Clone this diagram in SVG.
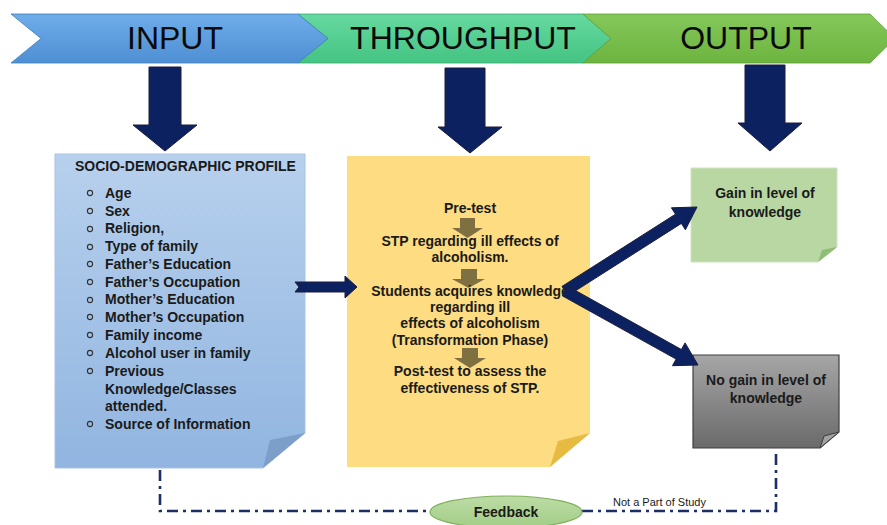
<svg xmlns="http://www.w3.org/2000/svg" width="887" height="525" viewBox="0 0 887 525">
<defs>
<linearGradient id="gIn" x1="0" y1="0" x2="0" y2="1"><stop offset="0" stop-color="#6fadea"/><stop offset="1" stop-color="#4e8fd3"/></linearGradient>
<linearGradient id="gThr" x1="0" y1="0" x2="0" y2="1"><stop offset="0" stop-color="#66d9a0"/><stop offset="1" stop-color="#44c482"/></linearGradient>
<linearGradient id="gOut" x1="0" y1="0" x2="0" y2="1"><stop offset="0" stop-color="#85c85a"/><stop offset="1" stop-color="#6cb43f"/></linearGradient>
<linearGradient id="gBlue" x1="0" y1="0" x2="0" y2="1"><stop offset="0" stop-color="#b7d0ed"/><stop offset="1" stop-color="#91b5e0"/></linearGradient>
<linearGradient id="gGray" x1="0" y1="0" x2="0" y2="1"><stop offset="0" stop-color="#a6a6a6"/><stop offset="1" stop-color="#6a6a6a"/></linearGradient>
<linearGradient id="gFb" x1="0" y1="0" x2="0" y2="1"><stop offset="0" stop-color="#bddca6"/><stop offset="1" stop-color="#a2cd86"/></linearGradient>
<style>
.ban{font-family:"Liberation Sans",Arial,sans-serif;font-size:32px;fill:#0a0a0a;text-anchor:middle}
.b{font-family:"Liberation Sans",Arial,sans-serif;font-weight:bold;font-size:14px;fill:#1a1a1a}
.c{text-anchor:middle}
.navy{fill:#0b2160;stroke:#1c1c3c;stroke-width:1}
.olive{fill:#7f7042}
.bul{fill:none;stroke:#333;stroke-width:1.1}
.fb{fill:none;stroke:#1b2f66;stroke-width:2.6;stroke-dasharray:11 5 3 5}
</style>
</defs>

<g id="banner-throughput">
<polygon points="298,14 583,14 611,38.5 583,63 298,63 328,38.5" fill="url(#gThr)" stroke="#3aa86f" stroke-width="0.8"/>
<text class="ban" x="463" y="49">THROUGHPUT</text>
</g>
<g id="banner-output">
<polygon points="583,14 870,14 895,38.5 870,63 583,63 611,38.5" fill="url(#gOut)" stroke="#5e9e36" stroke-width="0.8"/>
<text class="ban" x="746" y="49">OUTPUT</text>
</g>
<g id="banner-input">
<polygon points="11,14 298,14 328,38.5 298,63 11,63 41,38.5" fill="url(#gIn)" stroke="#3f7fc0" stroke-width="0.8"/>
<text class="ban" x="175" y="49">INPUT</text>
</g>

<g id="socio-demographic">
<polygon points="55,154 305,154 305,433 263,468 55,468" fill="url(#gBlue)" stroke="#a9c3e3" stroke-width="1"/>
<polygon points="305,433 263,468 270,440" fill="#7c9fc9"/>
<text class="b" x="75" y="171" font-size="13">SOCIO-DEMOGRAPHIC PROFILE</text>
<circle class="bul" cx="90" cy="193" r="2.6"/><text class="b" x="105" y="198">Age</text>
<circle class="bul" cx="90" cy="211" r="2.6"/><text class="b" x="105" y="216">Sex</text>
<circle class="bul" cx="90" cy="229" r="2.6"/><text class="b" x="105" y="233">Religion,</text>
<circle class="bul" cx="90" cy="247" r="2.6"/><text class="b" x="105" y="251">Type of family</text>
<circle class="bul" cx="90" cy="264" r="2.6"/><text class="b" x="105" y="269">Father’s Education</text>
<circle class="bul" cx="90" cy="282" r="2.6"/><text class="b" x="105" y="287">Father’s Occupation</text>
<circle class="bul" cx="90" cy="300" r="2.6"/><text class="b" x="105" y="304">Mother’s Education</text>
<circle class="bul" cx="90" cy="317" r="2.6"/><text class="b" x="105" y="322">Mother’s Occupation</text>
<circle class="bul" cx="90" cy="335" r="2.6"/><text class="b" x="105" y="340">Family income</text>
<circle class="bul" cx="90" cy="353" r="2.6"/><text class="b" x="105" y="358">Alcohol user in family</text>
<circle class="bul" cx="90" cy="371" r="2.6"/><text class="b" x="105" y="376">Previous</text>
<text class="b" x="105" y="394">Knowledge/Classes</text>
<text class="b" x="105" y="411">attended.</text>
<circle class="bul" cx="90" cy="424" r="2.6"/><text class="b" x="105" y="429">Source of Information</text>
</g>

<g id="throughput-box">
<polygon points="347,156 590,156 590,433 550,467 347,467" fill="#fddc82"/>
<polygon points="590,433 550,467 558,441" fill="#e7bb42"/>
<polygon class="olive" points="460,218 475,218 475,228 483,228 467.5,238 452,228 460,228"/>
<polygon class="olive" points="461,269 477,269 477,279 485,279 468.5,288 452,279 461,279"/>
<polygon class="olive" points="462,348 478,348 478,358 486,358 470,368 454,358 462,358"/>
<text class="b c" x="470" y="213">Pre-test</text>
<text class="b c" x="470" y="246">STP regarding ill effects of</text>
<text class="b c" x="470" y="262">alcoholism.</text>
<text class="b c" x="470" y="296">Students acquires knowledge</text>
<text class="b c" x="470" y="312">regarding ill</text>
<text class="b c" x="470" y="328">effects of alcoholism</text>
<text class="b c" x="470" y="345">(Transformation Phase)</text>
<text class="b c" x="470" y="376">Post-test to assess the</text>
<text class="b c" x="470" y="393">effectiveness of STP.</text>
</g>

<g id="gain">
<polygon points="691,168 837,168 837,247 818,262 691,262" fill="#b8d7a3" stroke="#cfe3c0" stroke-width="1"/>
<polygon points="837,247 818,262 822,250" fill="#8fbc76"/>
<text class="b c" x="765" y="198">Gain in level of</text>
<text class="b c" x="765" y="217">knowledge</text>
</g>

<g id="no-gain">
<polygon points="693,355 839,355 839,432 820,448 693,448" fill="url(#gGray)" stroke="#3f3f3f" stroke-width="1.2"/>
<polygon points="839,432 820,448 824,436" fill="#a0a0a0" stroke="#3f3f3f" stroke-width="1"/>
<text class="b c" x="766" y="385">No gain in level of</text>
<text class="b c" x="766" y="403">knowledge</text>
</g>

<g id="connectors">
<polygon class="navy" points="149,67 181,67 181,125 197,125 165,151 133,125 149,125"/>
<polygon class="navy" points="445,68 485,68 485,127 502,127 470,153 438,127 445,127"/>
<polygon class="navy" points="745,65 785,65 785,123 802,123 770,151 738,123 745,123"/>
<polygon class="navy" points="295,282 345,282 345,276 357,287 345,298 345,292 295,292 299,287"/>
<polygon class="navy" points="562,286.4 675.5,214.2 671.4,207.8 697,207 685.4,229.8 681.4,223.4 568,295.6"/>
<polygon class="navy" points="567.7,286.2 681.4,349.5 685.1,342.9 698,365 672.5,365.7 676.1,359.1 562.3,295.8"/>
<path class="fb" d="M160,470 V511 H430"/>
<path class="fb" d="M582,511 H776 V452"/>
</g>

<g id="feedback">
<ellipse cx="506" cy="512" rx="76" ry="16" fill="url(#gFb)" stroke="#7fb15e" stroke-width="1.2"/>
<text class="b c" x="506" y="517" font-size="13.5">Feedback</text>
</g>
<g id="note">
<text x="613" y="506" font-family="Liberation Sans,Arial,sans-serif" font-size="11" fill="#1a1a1a">Not a Part of Study</text>
</g>
</svg>
